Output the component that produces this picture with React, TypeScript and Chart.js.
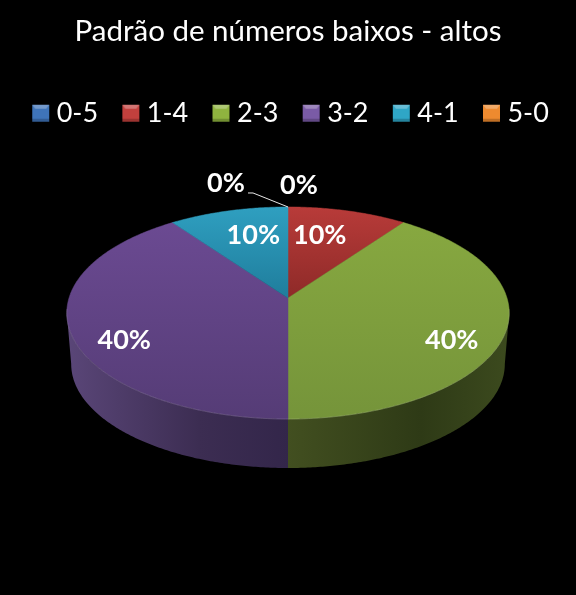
import React, { useEffect, useRef } from "react";
import { Chart, registerables } from "chart.js";

Chart.register(...registerables);

const categories = ["0-5", "1-4", "2-3", "3-2", "4-1", "5-0"];
const shares = [0, 10, 40, 40, 10, 0];
const legendColors = ["#3f74b9", "#c2403d", "#8fb33f", "#7a5ba6", "#2fa6c6", "#ee8a2f"];
const topColors: [string, string][] = [
  ["#3f74b9", "#2f5a90"],
  ["#b83b39", "#8e2a28"],
  ["#87a840", "#75943a"],
  ["#6b4a92", "#553c76"],
  ["#2f9fc0", "#1f7d9c"],
  ["#ee8a2f", "#c06a20"],
];
const wallColors: [string, string, string][] = [
  ["#2f5a90", "#1d3a60", "#2f5a90"],
  ["#6a2322", "#451616", "#6a2322"],
  ["#424f20", "#2e3a16", "#3c4a1e"],
  ["#5a4678", "#3c2d52", "#33264a"],
  ["#17607a", "#0f4456", "#17607a"],
  ["#9a5a1e", "#6a3d14", "#9a5a1e"],
];
// label placement: fraction of radius, then pixel nudge
const labelFractions = [1, 0.5, 0.76, 0.76, 0.5, 1];
const labelNudges: [number, number][] = [
  [11, -22], [0, -16], [0, 17], [0, 17], [-3, -16], [-62, -24],
];

const CX = 288, AY = 298, BX = 219, BY = 103.9, K = -0.1415;
const DEPTH_SHIFT = 51.4, DEPTH_SCALE = 0.98;
const SILHOUETTE = 0.14;

function project(a: number, f: number, bottom = false): [number, number] {
  const u = Math.cos(a) * f, n = Math.sin(a) * f;
  const w = 1 + K * n;
  const x = (BX * u) / w, y = (BY * n) / w;
  return bottom
    ? [CX + x * DEPTH_SCALE, AY + DEPTH_SHIFT + y * DEPTH_SCALE]
    : [CX + x, AY + y];
}

const piePlugin = {
  id: "perspectivePie",
  afterLayout(chart: any) {
    const legend = chart.legend;
    legend.left -= 4;
    legend.right -= 4;
    legend.top += 4;
    legend.bottom += 4;
  },
  beforeDatasetsDraw(chart: any) {
    const ctx = chart.ctx as CanvasRenderingContext2D;
    const arcs = chart.getDatasetMeta(0).data as any[];
    const STEP = 0.01;
    ctx.save();
    // outer wall: only the front-facing part of each slice
    arcs.forEach((arc, i) => {
      const { startAngle: s, endAngle: e } = arc.getProps(["startAngle", "endAngle"], true);
      const lo = Math.max(s, SILHOUETTE);
      const hi = Math.min(e, Math.PI - SILHOUETTE);
      if (hi - lo < 1e-6) return;
      const n = Math.ceil((hi - lo) / STEP);
      const xs: number[] = [];
      ctx.beginPath();
      for (let j = 0; j <= n; j++) {
        const p = project(lo + ((hi - lo) * j) / n, 1);
        xs.push(p[0]);
        j ? ctx.lineTo(p[0], p[1]) : ctx.moveTo(p[0], p[1]);
      }
      for (let j = n; j >= 0; j--) {
        const p = project(lo + ((hi - lo) * j) / n, 1, true);
        ctx.lineTo(p[0], p[1]);
      }
      ctx.closePath();
      const g = ctx.createLinearGradient(Math.min(...xs), 0, Math.max(...xs), 0);
      g.addColorStop(0, wallColors[i][0]);
      g.addColorStop(0.6, wallColors[i][1]);
      g.addColorStop(1, wallColors[i][2]);
      ctx.fillStyle = g;
      ctx.fill();
    });
    arcs.forEach((arc, i) => {
      const { startAngle: s, endAngle: e } = arc.getProps(["startAngle", "endAngle"], true);
      if (e - s < 1e-6) return;
      const n = Math.ceil((e - s) / STEP);
      ctx.beginPath();
      ctx.moveTo(CX, AY);
      let minY = 1e9, maxY = -1e9;
      for (let j = 0; j <= n; j++) {
        const p = project(s + ((e - s) * j) / n, 1);
        ctx.lineTo(p[0], p[1]);
        minY = Math.min(minY, p[1]);
        maxY = Math.max(maxY, p[1]);
      }
      maxY = Math.max(maxY, AY);
      ctx.closePath();
      const g = ctx.createLinearGradient(0, minY, 0, maxY);
      g.addColorStop(0, topColors[i][0]);
      g.addColorStop(1, topColors[i][1]);
      ctx.fillStyle = g;
      ctx.fill();
      ctx.strokeStyle = g;
      ctx.lineWidth = 0.5;
      ctx.stroke();
      // faint rim on the front edge
      ctx.beginPath();
      let started = false;
      for (let j = 0; j <= n; j++) {
        const a = s + ((e - s) * j) / n;
        if (Math.sin(a) < 0.1) continue;
        const p = project(a, 1);
        started ? ctx.lineTo(p[0], p[1]) : ctx.moveTo(p[0], p[1]);
        started = true;
      }
      ctx.strokeStyle = "rgba(255,255,255,0.14)";
      ctx.lineWidth = 1;
      ctx.stroke();
    });
    // leader line of the last zero slice
    const top = project(arcs[5].getProps(["startAngle"], true).startAngle, 1);
    ctx.beginPath();
    ctx.moveTo(top[0], top[1]);
    ctx.lineTo(top[0] - 35, top[1] - 14);
    ctx.lineTo(top[0] - 40, top[1] - 14);
    ctx.strokeStyle = "#e8e8e8";
    ctx.lineWidth = 1;
    ctx.stroke();
    // value labels
    ctx.fillStyle = "#ffffff";
    ctx.font = "bold 27px Lato";
    ctx.textAlign = "center";
    ctx.textBaseline = "middle";
    arcs.forEach((arc, i) => {
      const { startAngle: s, endAngle: e } = arc.getProps(["startAngle", "endAngle"], true);
      const total = shares.reduce((t, v) => t + v, 0);
      const p = project((s + e) / 2, labelFractions[i]);
      ctx.fillText(
        `${Math.round((shares[i] / total) * 100)}%`,
        p[0] + labelNudges[i][0],
        p[1] + labelNudges[i][1]
      );
    });
    ctx.restore();
    return false;
  },
};

// swatch sits in the right half of a wider transparent image
function swatch(color: string, size = 19): HTMLCanvasElement {
  const c = document.createElement("canvas");
  c.width = size * 2;
  c.height = size;
  const x = c.getContext("2d")!;
  x.translate(size, 0);
  x.fillStyle = color;
  x.fillRect(1, 1, size - 2, size - 2);
  x.fillStyle = "rgba(255,255,255,0.28)";
  x.beginPath();
  x.moveTo(1, 1);
  x.lineTo(size - 1, 1);
  x.lineTo(size - 4, 5);
  x.lineTo(4, 5);
  x.closePath();
  x.fill();
  x.fillStyle = "rgba(0,0,0,0.2)";
  x.fillRect(1, size - 4, size - 2, 3);
  return c;
}

export default function App() {
  const ref = useRef<HTMLCanvasElement>(null);
  useEffect(() => {
    document.documentElement.style.background = "#000";
    document.body.style.margin = "0";
    document.body.style.background = "#000";
    const chart = new Chart(ref.current!, {
      type: "pie",
      data: {
        labels: categories,
        datasets: [{ data: shares, backgroundColor: legendColors, borderWidth: 0 }],
      },
      plugins: [piePlugin],
      options: {
        responsive: false,
        animation: false,
        events: [],
        layout: { padding: { top: 14 } },
        plugins: {
          tooltip: { enabled: false },
          title: {
            display: true,
            text: "Padrão de números baixos - altos",
            color: "#ffffff",
            font: { family: "Lato", size: 29.5, weight: "normal" },
            padding: { top: 0, bottom: 35 },
          },
          legend: {
            position: "top",
            labels: {
              color: "#ffffff",
              font: { family: "Lato", size: 27 },
              usePointStyle: true,
              pointStyleWidth: 24,
              padding: 11.3,
              generateLabels: () =>
                categories.map((t, i) => ({
                  text: t,
                  fontColor: "#ffffff",
                  fillStyle: legendColors[i],
                  strokeStyle: legendColors[i],
                  lineWidth: 0,
                  pointStyle: swatch(legendColors[i]),
                  hidden: false,
                  index: i,
                })),
            },
          },
        },
      },
    } as any);
    return () => chart.destroy();
  }, []);
  return (
    <div style={{ width: 576, height: 595, background: "#000" }}>
      <canvas ref={ref} width={576} height={595} style={{ display: "block" }} />
    </div>
  );
}
